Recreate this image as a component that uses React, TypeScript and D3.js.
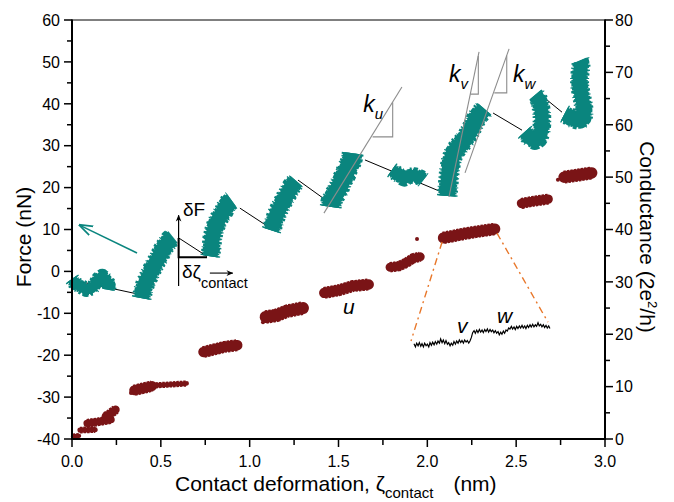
import React from 'react';
import * as d3 from 'd3';

// ---------- data ----------
const xTicks = [0, 0.5, 1.0, 1.5, 2.0, 2.5, 3.0];
const xMinor = [0.25, 0.75, 1.25, 1.75, 2.25, 2.75];
const forceTicks = [-40, -30, -20, -10, 0, 10, 20, 30, 40, 50, 60];
const forceMinor = [-35, -25, -15, -5, 5, 15, 25, 35, 45, 55];
const condTicks = [0, 10, 20, 30, 40, 50, 60, 70, 80];
const condMinor = [5, 15, 25, 35, 45, 55, 65, 75];

// force (nN) vs deformation (nm): noisy loading bands, centre lines
const forceBands: [number, number][][] = [
  [[0.0, -1.8], [0.02, -3.0], [0.05, -3.6], [0.08, -4.3], [0.11, -4.0], [0.13, -3.2], [0.15, -1.8], [0.17, -1.2], [0.19, -2.0], [0.21, -3.2], [0.205, -4.4]],
  [[0.392, -6.4], [0.40, -4.6], [0.415, -2.6], [0.43, -1.4], [0.45, 0.4], [0.47, 2.0], [0.49, 3.4], [0.51, 5.2], [0.53, 6.4], [0.55, 7.6], [0.568, 8.2]],
  [[0.778, 3.6], [0.785, 5.6], [0.79, 8.0], [0.80, 9.8], [0.815, 11.6], [0.835, 13.2], [0.855, 14.4], [0.87, 15.8], [0.885, 16.6], [0.898, 17.0]],
  [[1.122, 9.8], [1.135, 11.5], [1.15, 13.4], [1.165, 14.8], [1.18, 16.0], [1.2, 17.6], [1.215, 18.6], [1.235, 20.2], [1.25, 21.0], [1.262, 21.6]],
  [[1.456, 15.4], [1.46, 16.6], [1.475, 18.0], [1.49, 18.9], [1.505, 20.2], [1.52, 21.8], [1.54, 23.2], [1.55, 24.6], [1.565, 25.6], [1.576, 27.0], [1.58, 28.2]],
  [[1.8, 24.2], [1.82, 23.6], [1.845, 22.8], [1.87, 22.2], [1.9, 22.8], [1.93, 22.9], [1.96, 22.4], [1.978, 21.8]],
  [[2.112, 18.0], [2.115, 19.6], [2.12, 22.0], [2.125, 24.4], [2.135, 26.6], [2.15, 28.4], [2.18, 30.0], [2.21, 31.4], [2.235, 33.0], [2.255, 34.6], [2.27, 36.0], [2.29, 37.4], [2.31, 38.2], [2.322, 38.8]],
  [[2.548, 33.3], [2.565, 32.5], [2.585, 31.6], [2.605, 31.2], [2.625, 31.6], [2.64, 33.0], [2.645, 35.0], [2.645, 37.0], [2.64, 39.0], [2.632, 40.6], [2.62, 41.6], [2.608, 42.2]],
  [[2.772, 37.6], [2.79, 37.2], [2.81, 36.6], [2.835, 36.2], [2.86, 36.0], [2.878, 36.6], [2.883, 38.5], [2.875, 40.5], [2.865, 42.5], [2.857, 44.5], [2.857, 46.5], [2.863, 48.5], [2.866, 49.8], [2.86, 50.4]],
];
// scatter spread of each band (nN)
const forceSpread = [2.2, 3.3, 3.3, 3.3, 3.8, 2.5, 3.5, 3.0, 3.1];

// unloading lines [x1, F1, x2, F2]
const unloadLines: [number, number, number, number][] = [
  [0.03, -2.3, 0.37, -5.4],
  [0.6, 8.0, 0.76, 3.6],
  [0.945, 15.1, 1.114, 10.4],
  [1.272, 21.8, 1.413, 17.5],
  [1.649, 26.6, 2.083, 18.9],
  [2.37, 37.8, 2.533, 33.7],
  [2.674, 40.9, 2.758, 38.0],
];

// stiffness fits [x1, F1, x2, F2]
const fitLines: [number, number, number, number][] = [
  [1.418, 13.9, 1.857, 44.0],
  [2.122, 17.8, 2.291, 52.4],
  [2.212, 23.5, 2.46, 53.1],
];
// slope triangles: [xLeft, xRight, Fbottom, Ftop]
const fitTriangles: [number, number, number, number][] = [
  [1.692, 1.805, 32.1, 40.3],
  [2.242, 2.287, 42.3, 51.4],
  [2.377, 2.447, 42.6, 51.5],
];
const fitLabels = [
  { k: 'k', sub: 'u', x: 1.64, F: 38.0 },
  { k: 'k', sub: 'v', x: 2.122, F: 45.2 },
  { k: 'k', sub: 'w', x: 2.482, F: 45.2 },
];

// conductance (2e^2/h) plateaus, centre lines
const condBlobs: [number, number][][] = [
  [[0.005, 0.5], [0.04, 0.6]],
  [[0.045, 1.7], [0.13, 1.8]],
  [[0.085, 3.0], [0.15, 3.3], [0.22, 3.7]],
  [[0.19, 4.3], [0.215, 4.8], [0.245, 5.6]],
  [[0.35, 9.3], [0.45, 10.1]],
  [[0.45, 10.2], [0.645, 10.6]],
  [[0.74, 16.6], [0.8, 17.1], [0.86, 17.6], [0.93, 17.9]],
  [[1.09, 23.3], [1.15, 23.6], [1.21, 24.4], [1.3, 25.0]],
  [[1.42, 27.9], [1.5, 28.4], [1.58, 29.2], [1.67, 29.5]],
  [[1.79, 32.8], [1.84, 33.0], [1.88, 33.6], [1.92, 34.5], [1.96, 34.8]],
  [[2.09, 38.4], [2.15, 38.8], [2.21, 39.2], [2.3, 39.7], [2.38, 40.1]],
  [[2.53, 45.0], [2.6, 45.4], [2.68, 45.8]],
  [[2.77, 50.0], [2.85, 50.4], [2.925, 50.8]],
];
const condSpread = [0.8, 1.0, 1.4, 1.6, 1.9, 0.9, 2.0, 2.3, 2.0, 1.7, 2.1, 1.8, 2.2];
const condDots: [number, number][] = [
  [0.332, 8.8], [1.075, 22.3], [1.942, 38.2], [2.538, 44.3], [2.735, 49.5],
];

// zoomed conductance trace
const trace: [number, number][] = [
  [1.925, 18.2], [1.933, 17.6], [1.94, 18.3], [1.948, 17.8], [1.955, 18.4], [1.963, 17.7], [1.97, 18.2], [1.978, 17.6], [1.985, 18.3],
  [1.993, 17.8], [2.0, 18.1], [2.008, 17.6], [2.015, 18.4], [2.023, 17.9], [2.03, 18.5], [2.038, 18.0], [2.045, 18.6], [2.053, 18.1],
  [2.06, 18.7], [2.068, 18.3], [2.075, 19.1], [2.083, 18.4], [2.09, 18.9], [2.098, 18.2], [2.105, 18.8], [2.113, 18.1], [2.12, 18.4],
  [2.128, 17.8], [2.135, 18.3], [2.143, 17.9], [2.15, 18.6], [2.158, 18.1], [2.165, 18.7], [2.173, 18.3], [2.18, 18.9], [2.188, 18.4],
  [2.195, 18.8], [2.203, 18.3], [2.21, 18.9], [2.218, 18.5], [2.225, 18.8], [2.233, 18.3], [2.24, 18.7], [2.248, 19.4], [2.255, 20.3],
  [2.263, 20.7], [2.27, 20.2], [2.278, 20.8], [2.285, 20.3], [2.293, 20.9], [2.3, 20.4], [2.308, 20.8], [2.315, 20.3], [2.323, 20.9],
  [2.33, 20.5], [2.338, 21.0], [2.345, 20.4], [2.353, 20.9], [2.36, 20.5], [2.368, 20.8], [2.375, 20.3], [2.383, 20.7], [2.39, 20.2],
  [2.398, 20.5], [2.405, 19.9], [2.413, 20.4], [2.42, 20.0], [2.428, 20.6], [2.435, 20.2], [2.443, 20.8], [2.45, 20.6], [2.458, 21.2],
  [2.465, 21.0], [2.473, 21.5], [2.48, 21.0], [2.488, 21.4], [2.495, 20.9], [2.503, 21.5], [2.51, 21.1], [2.518, 21.6], [2.525, 21.2],
  [2.533, 21.7], [2.54, 21.2], [2.548, 21.6], [2.555, 21.1], [2.563, 21.7], [2.57, 21.3], [2.578, 21.8], [2.585, 21.4], [2.593, 21.9],
  [2.6, 21.4], [2.608, 21.8], [2.615, 21.5], [2.623, 22.2], [2.63, 21.6], [2.638, 21.9], [2.645, 21.4], [2.653, 21.8], [2.66, 21.3],
  [2.668, 21.7], [2.675, 21.2], [2.683, 21.6], [2.69, 21.1],
];
// zoom guide lines [x1, G1, x2, G2]
const zoomGuides: [number, number, number, number][] = [
  [2.083, 37.6, 1.908, 18.7],
  [2.392, 39.3, 2.679, 22.3],
];

// ---------- layout ----------
const W = 674, H = 502;
const L = 72, R = 605, T = 20, B = 439;
const TEAL = '#0a857e';
const RED = '#7a1416';
const FONT = "'Liberation Sans', Arial, Helvetica, sans-serif";

export default function App() {
  const x = d3.scaleLinear().domain([0, 3]).range([L, R]);
  const yF = d3.scaleLinear().domain([-40, 60]).range([B, T]);
  const yG = d3.scaleLinear().domain([0, 80]).range([B, T]);
  const pxN = yF(0) - yF(1);
  const pxG = yG(0) - yG(1);
  const lineF = d3.line<[number, number]>().x(d => x(d[0])).y(d => yF(d[1])).curve(d3.curveLinear);
  const lineG = d3.line<[number, number]>().x(d => x(d[0])).y(d => yG(d[1]));

  return (
    <svg width={W} height={H} viewBox={`0 0 ${W} ${H}`} style={{ position: 'absolute', left: 0, top: 0, background: '#fff' }} fontFamily={FONT}>
      <defs>
        <marker id="ah" viewBox="0 0 10 10" refX="9" refY="5" markerWidth="7" markerHeight="7" orient="auto-start-reverse" markerUnits="userSpaceOnUse">
          <path d="M0,1 L10,5 L0,9 L3,5 Z" fill="#000" />
        </marker>
        <marker id="ahT" viewBox="0 0 10 10" refX="9" refY="5" markerWidth="14" markerHeight="14" orient="auto" markerUnits="userSpaceOnUse">
          <path d="M0,1.5 L10,5 L0,8.5" fill="none" stroke={TEAL} strokeWidth="1.2" />
        </marker>
      </defs>
      <rect x={0} y={0} width={W} height={H} fill="#fff" />

      {/* unloading lines */}
      {unloadLines.map((l, i) => (
        <line key={'u' + i} x1={x(l[0])} y1={yF(l[1])} x2={x(l[2])} y2={yF(l[3])} stroke="#000" strokeWidth={1} />
      ))}

      {/* force bands */}
      {forceBands.map((pts, i) => {
        const d = lineF(pts) || '';
        const w = forceSpread[i] * pxN;
        return (
          <g key={'f' + i}>
            <path d={d} fill="none" stroke={TEAL} strokeWidth={w + 6} strokeDasharray="1.3 2.8 2 2.2 1 3.4 2.4 2.4" strokeLinejoin="round" />
            <path d={d} fill="none" stroke={TEAL} strokeWidth={w + 3.5} strokeDasharray="2.6 1.2 1.4 1.8 3 1.2" strokeDashoffset={1.5} strokeLinejoin="round" />
            <path d={d} fill="none" stroke={TEAL} strokeWidth={w + 1} strokeLinecap="butt" strokeLinejoin="round" />
          </g>
        );
      })}

      {/* conductance blobs */}
      {condBlobs.map((pts, i) => {
        const d = lineG(pts) || '';
        const w = condSpread[i] * pxG;
        return (
          <g key={'c' + i}>
            <path d={d} fill="none" stroke={RED} strokeWidth={w + 1.5} strokeDasharray="2.5 1" strokeLinejoin="round" />
            <path d={d} fill="none" stroke={RED} strokeWidth={w} strokeLinecap="round" strokeLinejoin="round" />
          </g>
        );
      })}
      {condDots.map((p, i) => (
        <circle key={'cd' + i} cx={x(p[0])} cy={yG(p[1])} r={2} fill={RED} />
      ))}

      {/* fits */}
      {fitLines.map((l, i) => (
        <line key={'k' + i} x1={x(l[0])} y1={yF(l[1])} x2={x(l[2])} y2={yF(l[3])} stroke="#8c8c8c" strokeWidth={1.1} />
      ))}
      {fitTriangles.map((t, i) => (
        <polyline key={'kt' + i} points={`${x(t[0])},${yF(t[2])} ${x(t[1])},${yF(t[2])} ${x(t[1])},${yF(t[3])}`} fill="none" stroke="#8c8c8c" strokeWidth={1.1} />
      ))}
      {fitLabels.map((f, i) => (
        <text key={'kl' + i} x={x(f.x)} y={yF(f.F)} fontSize={23} fontStyle="italic">
          {f.k}
          <tspan fontSize={15} dy={7}>{f.sub}</tspan>
        </text>
      ))}

      {/* zoom guides and trace */}
      {zoomGuides.map((g, i) => (
        <line key={'zg' + i} x1={x(g[0])} y1={yG(g[1])} x2={x(g[2])} y2={yG(g[3])} stroke="#e8772a" strokeWidth={1.4} strokeDasharray="7 4 2 4" />
      ))}
      <path d={lineG(trace) || ''} fill="none" stroke="#000" strokeWidth={1.2} />

      {/* teal arrow */}
      <line x1={x(0.366)} y1={yF(4.4)} x2={x(0.045)} y2={yF(11.0)} stroke={TEAL} strokeWidth={1.5} markerEnd="url(#ahT)" />

      {/* delta annotation */}
      <line x1={x(0.6)} y1={yF(-3.5)} x2={x(0.6)} y2={yF(13.4)} stroke="#000" strokeWidth={1.2} markerEnd="url(#ah)" />
      <polyline points={`${x(0.6)},${yF(8.0)} ${x(0.6)},${yF(3.4)} ${x(0.76)},${yF(3.4)}`} fill="none" stroke="#000" strokeWidth={2} />
      <line x1={x(0.776)} y1={yF(-0.4)} x2={x(0.905)} y2={yF(-0.4)} stroke="#000" strokeWidth={1.1} markerEnd="url(#ah)" />
      <text x={183} y={216} fontSize={19}>δF</text>
      <text x={182} y={278} fontSize={19}>δζ<tspan fontSize={14.5} dy={10} dx={0}>contact</tspan></text>

      {/* labels u v w */}
      <text x={343} y={314} fontSize={21} fontStyle="italic">u</text>
      <text x={457} y={333} fontSize={21} fontStyle="italic">v</text>
      <text x={497} y={323} fontSize={21} fontStyle="italic">w</text>

      {/* frame */}
      <line x1={L} y1={T} x2={R} y2={T} stroke="#000" strokeWidth={1} />

      {/* left axis */}
      <line x1={L} y1={T - 0.5} x2={L} y2={B + 1} stroke="#000" strokeWidth={2} />
      {forceTicks.map(t => (
        <g key={'lt' + t}>
          <line x1={L - 8} x2={L} y1={yF(t)} y2={yF(t)} stroke="#000" strokeWidth={1.5} />
          <text x={L - 12} y={yF(t)} dy="0.36em" textAnchor="end" fontSize={16}>{t}</text>
        </g>
      ))}
      {forceMinor.map(t => (
        <line key={'lm' + t} x1={L - 5} x2={L} y1={yF(t)} y2={yF(t)} stroke="#000" strokeWidth={1.5} />
      ))}

      {/* right axis */}
      <line x1={R} y1={T - 0.5} x2={R} y2={B + 1} stroke="#000" strokeWidth={2} />
      {condTicks.map(t => (
        <g key={'rt' + t}>
          <line x1={R} x2={R + 8} y1={yG(t)} y2={yG(t)} stroke="#000" strokeWidth={1.5} />
          <text x={R + 10} y={yG(t)} dy="0.36em" textAnchor="start" fontSize={16}>{t}</text>
        </g>
      ))}
      {condMinor.map(t => (
        <line key={'rm' + t} x1={R} x2={R + 5} y1={yG(t)} y2={yG(t)} stroke="#000" strokeWidth={1.5} />
      ))}

      {/* bottom axis */}
      <line x1={L - 1} y1={B} x2={R + 1} y2={B} stroke="#000" strokeWidth={2} />
      {xTicks.map(t => (
        <g key={'bt' + t}>
          <line x1={x(t)} x2={x(t)} y1={B} y2={B + 8} stroke="#000" strokeWidth={1.5} />
          <text x={x(t)} y={B + 28} textAnchor="middle" fontSize={16}>{t.toFixed(1)}</text>
        </g>
      ))}
      {xMinor.map(t => (
        <line key={'bm' + t} x1={x(t)} x2={x(t)} y1={B} y2={B + 6} stroke="#000" strokeWidth={1.5} />
      ))}

      {/* axis titles */}
      <text x={175} y={491} fontSize={21}>
        Contact deformation, ζ<tspan fontSize={15} dy={7}>contact</tspan>
        <tspan dy={-7} dx={20}>(nm)</tspan>
      </text>
      <text transform={`translate(31,237) rotate(-90)`} textAnchor="middle" fontSize={21}>Force (nN)</text>
      <text transform={`translate(640,237) rotate(90)`} textAnchor="middle" fontSize={21}>
        Conductance (2e<tspan fontSize={13} dy={-8}>2</tspan><tspan dy={8}>/h)</tspan>
      </text>
    </svg>
  );
}
